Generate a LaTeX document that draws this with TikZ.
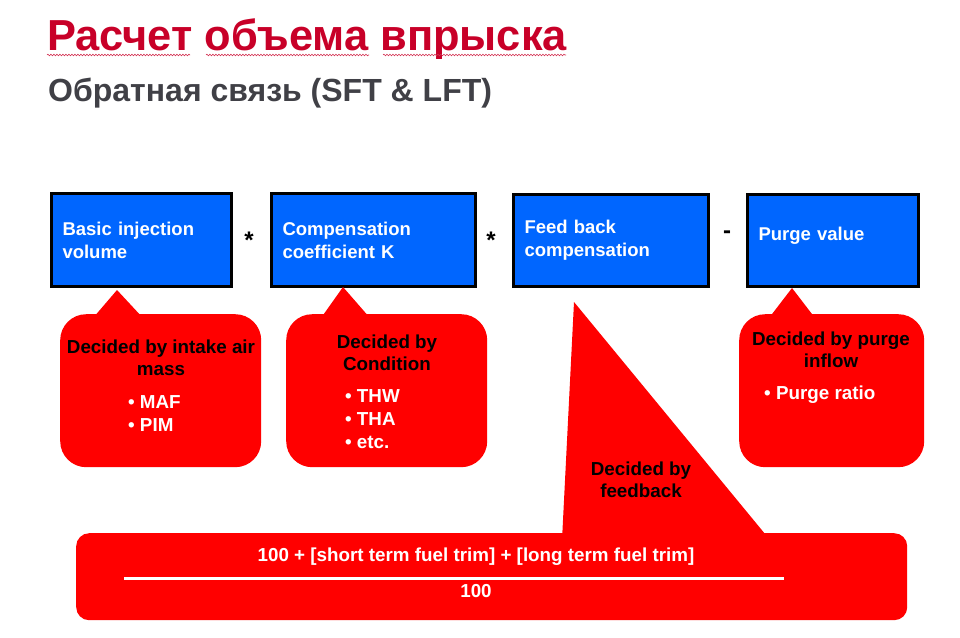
\documentclass[tikz,border=0pt]{standalone}
\usepackage{fontspec}
\setmainfont{Liberation Sans}
\usetikzlibrary{decorations.pathmorphing}
\definecolor{boxblue}{RGB}{0,102,255}
\definecolor{callred}{RGB}{255,0,0}
\definecolor{titlered}{RGB}{200,0,40}
\definecolor{subgray}{RGB}{64,64,70}
\tikzset{
  bluebox/.style={draw=black, line width=3pt, fill=boxblue, anchor=north west,
    inner xsep=11pt, align=left, text=white, font=\fontsize{18.5}{23}\selectfont\bfseries},
  callbody/.style={fill=callred, rounded corners=26pt, anchor=north west, inner sep=0pt},
  calltext/.style={text=black, align=center, font=\fontsize{18.8}{22.5}\selectfont\bfseries, inner sep=0pt},
  bullettext/.style={text=white, align=left, font=\fontsize{18.8}{23}\selectfont\bfseries, inner sep=0pt, anchor=west},
  optext/.style={font=\fontsize{24}{24}\selectfont\bfseries, inner sep=0pt},
  wavy/.style={draw=titlered!80, line width=0.6pt, decorate, decoration={snake, amplitude=0.8pt, segment length=3pt}}
}
\begin{document}
\begin{tikzpicture}[x=1pt,y=-1pt]
\useasboundingbox (0,0) rectangle (960,637);
% titles
\node[anchor=base west, inner sep=0pt, text=titlered, font=\fontsize{43.4}{44}\selectfont\bfseries] (title) at (47,50) {Расчет объема впрыска};
\node[anchor=base west, inner sep=0pt, text=subgray, font=\fontsize{32}{32}\selectfont\bfseries] (sub) at (48,101) {Обратная связь (SFT \& LFT)};
\draw[wavy] (47,55) -- (190,55);
\draw[wavy] (206,55) -- (369,55);
\draw[wavy] (383,55) -- (566,55);
% blue boxes
\node[bluebox, minimum width=180pt, minimum height=93pt, text width=158pt] (b1) at (50,192) {Basic injection\\volume};
\node[bluebox, minimum width=204pt, minimum height=93pt, text width=182pt] (b2) at (270,192) {Compensation\\coefficient K};
\node[bluebox, minimum width=195pt, minimum height=92pt, text width=173pt] (b3) at (512,193) {Feed back\\compensation};
\node[bluebox, minimum width=171pt, minimum height=92pt, text width=149pt] (b4) at (746,193) {Purge value\\[-9pt]\mbox{}};
% operators
\node[optext] (op1) at (249,240) {*};
\node[optext] (op2) at (491,240) {*};
\node[optext] (op3) at (727,235) {-};
% callout 1
\fill[callred] (93,318) -- (117,290) -- (143,318) -- cycle;
\node[callbody, minimum width=201pt, minimum height=153pt] (c1) at (60,314) {};
\node[calltext] (c1t) at (161,358) {Decided by intake air\\mass};
\node[bullettext] (c1b) at (128,414) {• MAF\\• PIM};
% callout 2
\fill[callred] (321,318) -- (343,287) -- (370,318) -- cycle;
\node[callbody, minimum width=201pt, minimum height=153pt] (c2) at (286,314) {};
\node[calltext] (c2t) at (387,353) {Decided by\\Condition};
\node[bullettext] (c2b) at (345,419) {• THW\\• THA\\• etc.};
% callout 4
\fill[callred] (769,318) -- (792,288) -- (815,318) -- cycle;
\node[callbody, minimum width=185pt, minimum height=153pt] (c4) at (739,314) {};
\node[calltext] (c4t) at (831,350) {Decided by purge\\inflow};
\node[bullettext] (c4b) at (764,395) {• Purge ratio};
% feedback triangle
\fill[callred] (574,302) -- (562,540) -- (770,540) -- cycle;
\node[calltext] (ft) at (641,480) {Decided by\\feedback};
% bottom box
\node[fill=callred, rounded corners=13pt, anchor=north west, minimum width=831pt, minimum height=87pt, inner sep=0pt] (bot) at (76,533) {};
\node[text=white, inner sep=0pt, font=\fontsize{18.8}{18}\selectfont\bfseries] (num) at (476,557) {100 + [short term fuel trim] + [long term fuel trim]};
\node[text=white, inner sep=0pt, font=\fontsize{18.8}{18}\selectfont\bfseries] (den) at (476,591) {100};
\coordinate (fl) at (124,578);
\coordinate (fr) at (784,578);
\draw[white, line width=3pt] (fl) -- (fr);
\end{tikzpicture}
\end{document}
